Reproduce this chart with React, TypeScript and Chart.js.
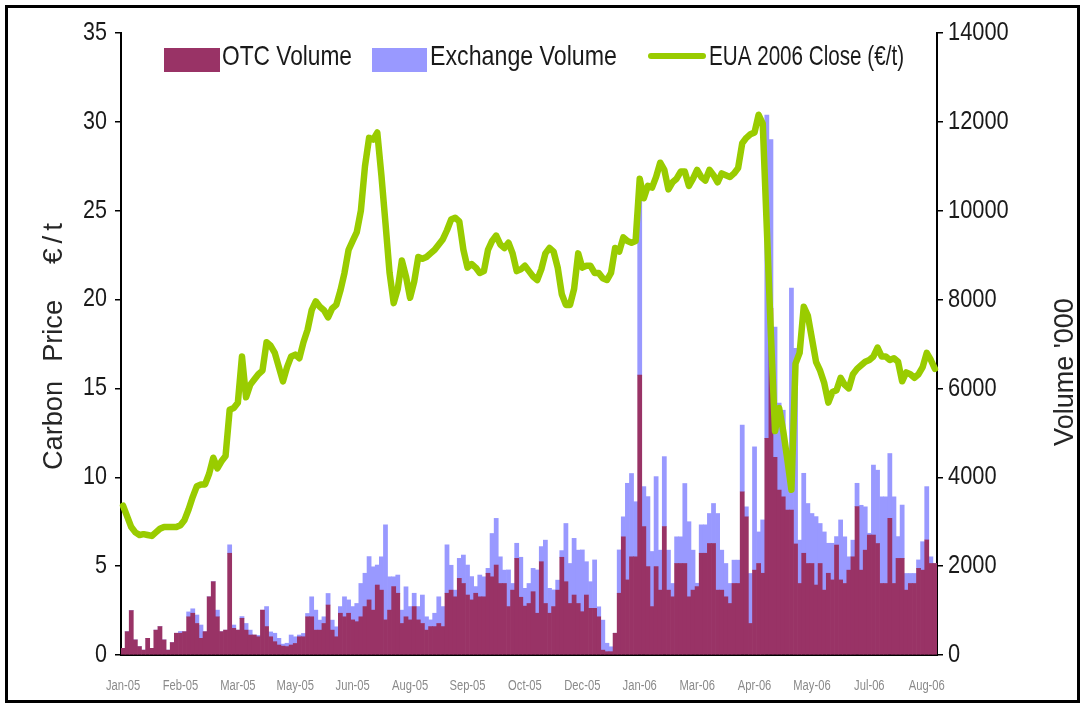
import { useEffect, useRef } from 'react';
import { Chart, registerables } from 'chart.js';

Chart.register(...registerables);

const monthLabels = ['Jan-05', 'Feb-05', 'Mar-05', 'May-05', 'Jun-05', 'Aug-05', 'Sep-05', 'Oct-05', 'Dec-05', 'Jan-06', 'Mar-06', 'Apr-06', 'May-06', 'Jul-06', 'Aug-06'];
const labelStep = 14;
const priceTicks = [0, 5, 10, 15, 20, 25, 30, 35];
const volumeTicks = [0, 2000, 4000, 6000, 8000, 10000, 12000, 14000];

const euaClose = [
  8.4, 7.8, 7.2, 6.9, 6.75, 6.8, 6.75, 6.7, 6.9, 7.1,
  7.2, 7.2, 7.2, 7.2, 7.3, 7.6, 8.2, 8.9, 9.5, 9.6,
  9.6, 10.2, 11.1, 10.5, 10.9, 11.2, 13.8, 13.9, 14.2, 16.8,
  14.5, 15.2, 15.5, 15.8, 16.0, 17.6, 17.4, 17.0, 16.2, 15.4,
  16.2, 16.8, 16.9, 16.7, 17.6, 18.3, 19.4, 19.9, 19.6, 19.4,
  19.0, 19.5, 19.7, 20.5, 21.5, 22.8, 23.3, 23.8, 25.0, 27.5,
  29.1, 29.0, 29.4, 27.0, 24.3, 21.5, 19.8, 20.6, 22.2, 21.3,
  20.1, 21.0, 22.4, 22.3, 22.4, 22.6, 22.8, 23.1, 23.4, 23.9,
  24.5, 24.6, 24.4, 22.8, 21.8, 22.0, 21.8, 21.5, 21.6, 22.8,
  23.3, 23.6, 23.1, 22.9, 23.2, 22.6, 21.6, 21.7, 21.9, 21.6,
  21.3, 21.1, 21.7, 22.6, 22.9, 22.7, 21.8, 20.3, 19.7, 19.7,
  20.6, 22.6, 21.8, 21.9, 21.9, 21.5, 21.5, 21.2, 21.1, 21.5,
  22.9, 22.7, 23.5, 23.3, 23.2, 23.3, 26.8, 25.7, 26.4, 26.3,
  26.9, 27.7, 27.3, 26.2, 26.6, 26.8, 27.2, 27.2, 26.4, 26.8,
  27.3, 26.9, 26.7, 27.3, 27.0, 26.6, 27.1, 27.0, 26.9, 27.1,
  27.4, 28.8, 29.1, 29.3, 29.4, 30.4, 29.9, 24.0, 18.0, 12.6,
  13.9, 12.6, 11.0, 9.3, 16.4, 17.0, 19.6, 19.1, 17.8, 16.5,
  16.0, 15.3, 14.2, 14.8, 14.9, 15.6, 15.2, 15.0, 15.8, 16.1,
  16.3, 16.5, 16.6, 16.8, 17.3, 16.8, 16.8, 16.6, 16.7, 16.5,
  15.4, 15.9, 15.8, 15.6, 15.8, 16.2, 17.0, 16.6, 16.1,
];

const otcVolume = [
  150, 525, 1000, 340, 190, 110, 375, 150, 560, 640,
  340, 110, 280, 490, 490, 525, 860, 940, 710, 375,
  525, 1310, 1650, 860, 525, 560, 2290, 600, 560, 825,
  560, 450, 450, 410, 1010, 640, 410, 300, 225, 200,
  190, 225, 260, 410, 410, 860, 860, 560, 560, 710,
  1125, 560, 410, 940, 860, 940, 790, 750, 860, 1090,
  1240, 1010, 1575, 1460, 790, 1010, 1540, 1390, 710, 860,
  790, 1090, 790, 710, 560, 640, 640, 710, 640, 1390,
  1460, 1310, 1725, 1610, 1350, 1240, 1390, 1310, 1310, 1840,
  1760, 2025, 1610, 1610, 1090, 1460, 2175, 1300, 1100, 1160,
  1425, 940, 2100, 1160, 940, 1090, 1460, 2200, 1650, 1160,
  1350, 1160, 975, 1350, 1050, 1050, 860, 110, 75, 75,
  490, 1390, 2660, 1690, 2210, 2210, 6300, 2890, 1990, 1090,
  1990, 1460, 2890, 1460, 1310, 2060, 2060, 2060, 1310, 1460,
  1540, 2290, 2290, 2510, 2510, 1460, 1460, 1310, 1160, 1610,
  1610, 3675, 3110, 710, 1910, 2060, 1840, 4875, 7800, 4450,
  3710, 3560, 3260, 3260, 2500, 1610, 2290, 2060, 2060, 1575,
  2060, 1460, 1840, 1690, 2475, 1690, 1610, 1910, 2210, 3340,
  1910, 2360, 2700, 2700, 2510, 1610, 1610, 3075, 1610, 2175,
  2175, 1460, 1610, 1610, 1950, 1910, 2590, 2060, 2060,
];

const exchangeVolume = [
  0, 0, 0, 0, 0, 0, 0, 0, 0, 0,
  0, 0, 0, 0, 40, 0, 110, 100, 190, 300,
  0, 0, 0, 150, 0, 0, 190, 75, 0, 40,
  150, 110, 0, 30, 0, 450, 110, 190, 150, 45,
  75, 225, 150, 40, 75, 75, 450, 450, 225, 150,
  260, 225, 225, 150, 450, 300, 300, 410, 750, 750,
  975, 975, 450, 750, 2140, 750, 220, 410, 300, 675,
  300, 300, 300, 640, 300, 150, 300, 600, 450, 1090,
  560, 150, 450, 640, 675, 525, 150, 490, 450, 110,
  975, 1050, 600, 300, 825, 150, 340, 900, 400, 450,
  525, 975, 340, 1425, 560, 375, 225, 150, 1310, 900,
  1275, 1200, 1390, 750, 600, 1090, 225, 675, 190, 110,
  0, 975, 450, 2175, 1875, 1240, 3940, 900, 1575, 1240,
  2025, 900, 1575, 900, 300, 600, 600, 1800, 1690, 900,
  75, 640, 640, 675, 900, 1725, 900, 750, 450, 525,
  525, 1500, 225, 1125, 2775, 710, 1200, 7275, 3800, 2930,
  1960, 1950, 1350, 5000, 4400, 975, 1800, 1350, 1125, 1540,
  900, 1310, 675, 825, 190, 1350, 1050, 300, 375, 525,
  1460, 975, 40, 1575, 1650, 1950, 1950, 1460, 1950, 490,
  1200, 375, 225, 225, 190, 640, 1200, 150, 0,
];

const seriesNames = ['OTC Volume', 'Exchange Volume', 'EUA 2006 Close (€/t)'];
const axisTitles = ['Carbon Price', '€/t', "Volume '000"];

const FONT = '"Liberation Sans", Arial, sans-serif';
const C_OTC = '#993366';
const C_EXC = '#9999ff';
const C_LINE = '#99cc00';

function condensedText(ctx: CanvasRenderingContext2D, text: string, x: number, y: number, sx: number) {
  ctx.save();
  ctx.translate(x, y);
  ctx.scale(sx, 1);
  ctx.fillText(text, 0, 0);
  ctx.restore();
}

const decorPlugin = {
  id: 'decor',
  afterDraw(chart: any) {
    const ctx = chart.ctx as CanvasRenderingContext2D;
    const { x, yPrice, yVol } = chart.scales;

    // tick labels (positions from the chart's own scales)
    ctx.save();
    ctx.fillStyle = '#1a1a1a';
    ctx.textBaseline = 'middle';
    ctx.font = `25px ${FONT}`;
    ctx.textAlign = 'right';
    priceTicks.forEach((v) => condensedText(ctx, String(v), yPrice.left + yPrice.width - 14, yPrice.getPixelForValue(v), 0.86));
    ctx.textAlign = 'left';
    ctx.font = `26px ${FONT}`;
    volumeTicks.forEach((v) => condensedText(ctx, String(v), yVol.left + 11, yVol.getPixelForValue(v), 0.84));
    ctx.fillStyle = '#8a8a8a';
    ctx.textAlign = 'center';
    ctx.font = `14px ${FONT}`;
    monthLabels.forEach((m, k) => condensedText(ctx, m, x.getPixelForValue(k * labelStep), 686, 0.8));
    ctx.restore();

    // legend
    ctx.save();
    ctx.font = `28px ${FONT}`;
    ctx.textBaseline = 'alphabetic';
    ctx.textAlign = 'left';
    ctx.fillStyle = C_OTC;
    ctx.fillRect(164, 48, 56, 24);
    ctx.fillStyle = C_EXC;
    ctx.fillRect(372, 48, 55, 24);
    ctx.strokeStyle = C_LINE;
    ctx.lineWidth = 6;
    ctx.lineCap = 'round';
    ctx.beginPath();
    ctx.moveTo(651, 56);
    ctx.lineTo(703, 56);
    ctx.stroke();
    ctx.fillStyle = '#1a1a1a';
    ctx.fillText(seriesNames[0], 222, 65, 130);
    ctx.fillText(seriesNames[1], 430, 65, 187);
    ctx.fillText(seriesNames[2], 709, 65, 195);
    ctx.restore();

    // axis titles
    ctx.save();
    ctx.fillStyle = '#262626';
    ctx.font = `28px ${FONT}`;
    ctx.textAlign = 'left';
    ctx.textBaseline = 'middle';
    ctx.translate(54, 470);
    ctx.rotate(-Math.PI / 2);
    (ctx as any).wordSpacing = '12px';
    ctx.fillText(axisTitles[0], 0, 0, 170);
    (ctx as any).wordSpacing = '0px';
    (ctx as any).letterSpacing = '5px';
    ctx.fillText(axisTitles[1], 206, 0);
    ctx.restore();

    ctx.save();
    ctx.fillStyle = '#262626';
    ctx.font = `27px ${FONT}`;
    ctx.textAlign = 'center';
    ctx.textBaseline = 'middle';
    ctx.translate(1066, 372);
    ctx.rotate(-Math.PI / 2);
    ctx.fillText(axisTitles[2], 0, 0);
    ctx.restore();
  },
};

export default function App() {
  const ref = useRef<HTMLCanvasElement | null>(null);

  useEffect(() => {
    if (!ref.current) return;
    const categories = otcVolume.map((_, i) =>
      i % labelStep === 0 && monthLabels[i / labelStep] ? monthLabels[i / labelStep] : ''
    );
    const chart = new Chart(ref.current, {
      type: 'bar',
      data: {
        labels: categories,
        datasets: [
          {
            type: 'line',
            label: seriesNames[2],
            data: euaClose,
            yAxisID: 'yPrice',
            borderColor: C_LINE,
            backgroundColor: C_LINE,
            borderWidth: 6.5,
            pointRadius: 0,
            tension: 0,
            borderJoinStyle: 'round',
            borderCapStyle: 'round',
            order: 0,
          } as any,
          {
            type: 'bar',
            label: seriesNames[0],
            data: otcVolume,
            yAxisID: 'yVol',
            backgroundColor: C_OTC,
            borderWidth: 0,
            categoryPercentage: 1,
            barPercentage: 1,
            stack: 'vol',
            order: 1,
          },
          {
            type: 'bar',
            label: seriesNames[1],
            data: exchangeVolume,
            yAxisID: 'yVol',
            backgroundColor: C_EXC,
            borderWidth: 0,
            categoryPercentage: 1,
            barPercentage: 1,
            stack: 'vol',
            order: 2,
          },
        ],
      },
      options: {
        responsive: false,
        animation: false,
        layout: { padding: { top: 33, left: 0, right: 0, bottom: 0 } },
        plugins: { legend: { display: false }, tooltip: { enabled: false } },
        scales: {
          x: {
            type: 'category',
            stacked: true,
            offset: true,
            grid: { drawOnChartArea: false, drawTicks: false },
            border: { color: '#000', width: 2 },
            ticks: { display: false, autoSkip: false },
            afterFit: (s: any) => {
              s.height = 49;
            },
          },
          yPrice: {
            type: 'linear',
            position: 'left',
            min: 0,
            max: 35,
            ticks: { stepSize: 5, display: false },
            grid: { drawOnChartArea: false, tickLength: 6, color: '#000', lineWidth: 1.5 },
            border: { color: '#000', width: 2 },
            afterFit: (s: any) => {
              s.width = 121;
            },
          },
          yVol: {
            type: 'linear',
            position: 'right',
            stacked: true,
            min: 0,
            max: 14000,
            ticks: { stepSize: 2000, display: false },
            grid: { drawOnChartArea: false, tickLength: 6, color: '#000', lineWidth: 1.5 },
            border: { color: '#000', width: 2 },
            afterFit: (s: any) => {
              s.width = 145;
            },
          },
        },
      },
      plugins: [decorPlugin],
    });
    return () => chart.destroy();
  }, []);

  return (
    <div style={{ position: 'fixed', left: 0, top: 0, width: 1082, height: 704, background: '#fff', overflow: 'hidden' }}>
      <div
        style={{
          position: 'absolute',
          left: 5,
          top: 5,
          width: 1075,
          height: 698,
          border: '3px solid #000',
          boxSizing: 'border-box',
        }}
      />
      <canvas ref={ref} width={1082} height={704} style={{ position: 'absolute', left: 0, top: 0, width: 1082, height: 704 }} />
    </div>
  );
}
